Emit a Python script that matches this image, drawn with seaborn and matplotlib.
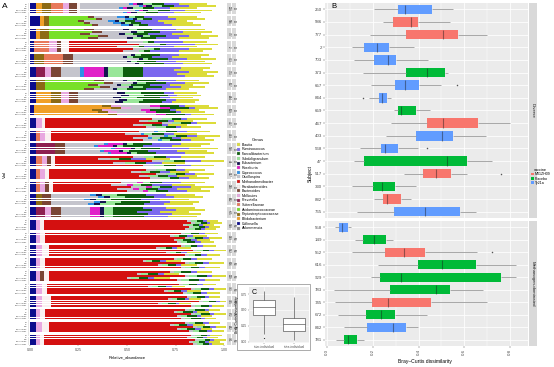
import numpy as np
import pandas as pd
import matplotlib
matplotlib.use("Agg")
import matplotlib.pyplot as plt
from matplotlib.patches import Patch, Rectangle
from matplotlib.transforms import blended_transform_factory
from matplotlib.ticker import FixedLocator
import seaborn as sns

plt.rcParams["font.family"] = ["Liberation Sans", "DejaVu Sans"]

# ---------------- data ----------------
GENERA = ["Blautia", "Ruminococcus", "Faecalibacterium", "Subdoligranulum", "Eubacterium",
          "Roseburia", "Coprococcus", "Oscillospira", "Methanobrevibacter", "Parabacteroides",
          "Bacteroides", "Mollicutes", "Prevotella", "Sutterellaceae", "Acidaminococcaceae",
          "Peptostreptococcaceae", "Bifidobacterium", "Collinsella", "Akkermansia"]
GENUS_COLORS = ["#DCDC3A", "#7B68EE", "#0E5E0E", "#98E698", "#141450",
                "#E020C8", "#2E8FE6", "#C4C4CC", "#D41010", "#FAF0F0",
                "#7A4535", "#E8A8E0", "#8E1E50", "#E8785A", "#78E028",
                "#8C6A14", "#F0A028", "#0C0C8C", "#8C8C8C"]

DIVERSE = ["250", "586", "777", "2", "703", "373", "657", "844", "659", "467",
           "403", "568", "47", "517", "330", "882", "765"]
METHANO = ["558", "149", "552", "616", "929", "783", "745", "672", "842", "781"]
SUBJECTS = DIVERSE + METHANO
VACCINE = ["Ty21a", "M01ZH09", "M01ZH09", "Ty21a", "Ty21a", "Placebo", "Ty21a", "Ty21a", "Placebo",
           "M01ZH09", "Ty21a", "Ty21a", "Placebo", "M01ZH09", "Placebo", "M01ZH09", "Ty21a",
           "Ty21a", "Placebo", "M01ZH09", "Placebo", "Placebo", "Placebo", "M01ZH09", "Placebo",
           "Ty21a", "Placebo"]
VACC_LEVELS = ["M01ZH09", "Placebo", "Ty21a"]
VACC_COLORS = ["#F8766D", "#00BA38", "#619CFF"]

SAMPLE_LABELS = ["D0", "D7", "D28", "Pre-challenge", "Post-challenge"]

# mean genus profile per subject (legend order)
PROFILES = [
    [.14, .08, .06, .05, .03, .02, .02, .25, 0, .02, .04, .03, 0, .06, 0, .05, .03, .03, 0],
    [.15, .12, .05, .03, .02, 0, .04, .12, 0, 0, .03, 0, 0, 0, .20, .03, .02, .05, 0],
    [.15, .12, .08, .04, .03, 0, 0, .15, 0, 0, .05, 0, 0, 0, .20, .05, .02, .03, 0],
    [.12, .15, .03, .03, 0, 0, 0, .08, .32, .04, .02, .04, 0, .08, 0, 0, 0, .02, 0],
    [.15, .10, .10, .03, .02, 0, 0, .30, 0, 0, .05, 0, 0, .10, 0, .05, 0, .02, 0],
    [.15, .20, .10, .08, .02, .10, .02, .10, 0, 0, .05, .03, .05, 0, 0, 0, 0, .03, 0],
    [.12, .10, .10, .05, .02, 0, 0, .10, 0, 0, .05, 0, 0, 0, .25, .05, 0, .03, 0],
    [.12, .05, .12, .08, .04, 0, 0, .20, 0, 0, .05, .04, 0, 0, 0, .05, .08, .03, 0],
    [.12, .03, .10, 0, 0, .05, 0, .15, 0, 0, 0, .05, 0, 0, 0, .05, .35, .02, 0],
    [.10, .03, .05, .05, 0, 0, 0, .05, .55, .02, 0, .03, 0, 0, 0, 0, 0, .03, 0],
    [.12, .05, .06, .04, 0, 0, .02, .08, .45, .03, 0, .03, 0, .02, 0, 0, 0, .03, 0],
    [.15, .15, .10, .03, .02, .08, .02, .20, 0, 0, .05, 0, .10, 0, 0, 0, 0, .03, 0],
    [.12, .08, .06, .05, 0, 0, 0, .06, .40, .02, .02, .03, 0, .03, 0, 0, 0, .03, 0],
    [.10, .05, .05, .05, 0, 0, 0, .05, .50, .02, 0, .03, 0, .02, 0, 0, 0, .03, 0],
    [.12, .10, .06, .04, 0, .03, 0, .08, .35, .02, .02, .03, 0, .02, 0, 0, 0, .03, 0],
    [.15, .10, .15, .08, .03, 0, .03, .20, 0, 0, .05, 0, 0, 0, 0, .03, 0, .03, 0],
    [.15, .12, .15, .05, .02, .05, 0, .15, 0, 0, .05, .03, .05, 0, 0, 0, 0, .03, 0],
    [.06, .02, .03, .03, 0, 0, 0, .02, .74, .02, 0, .02, 0, 0, 0, 0, 0, .03, 0],
    [.07, .03, .04, .03, 0, 0, 0, .02, .70, .03, 0, .02, 0, 0, 0, 0, 0, .03, 0],
    [.07, .03, .03, .03, 0, 0, 0, .02, .68, .04, 0, .03, 0, 0, 0, 0, 0, .03, 0],
    [.08, .03, .04, .03, 0, 0, 0, .02, .66, .03, 0, .02, 0, 0, 0, 0, 0, .03, 0],
    [.08, .03, .05, .04, 0, 0, 0, .02, .62, .03, .02, .02, 0, 0, 0, 0, 0, .03, 0],
    [.07, .03, .04, .03, 0, 0, 0, .02, .68, .03, 0, .03, 0, 0, 0, 0, 0, .03, 0],
    [.06, .02, .04, .03, 0, 0, 0, .02, .70, .05, 0, .03, 0, 0, 0, 0, 0, .03, 0],
    [.06, .02, .05, .03, 0, 0, 0, .02, .72, .03, 0, .02, 0, 0, 0, 0, 0, .03, 0],
    [.06, .03, .04, .03, 0, 0, 0, .02, .70, .04, 0, .03, 0, 0, 0, 0, 0, .03, 0],
    [.06, .02, .03, .03, 0, 0, 0, .02, .76, .02, 0, .02, 0, 0, 0, 0, 0, .03, 0],
]
# dominant genus of each subject and its abundance in each sample
DOMINANT = [7, 14, 14, 8, 7, 1, 14, 7, 16, 8, 8, 7, 8, 8, 8, 7, 2,
            8, 8, 8, 8, 8, 8, 8, 8, 8, 8]
DOMINANT_VALUES = [
    [.25, .30, .20, .28, .22], [.20, .24, .15, .18, .22], [.18, .22, .16, .25, .20],
    [.30, .36, .25, .33, .28], [.30, .26, .34, .28, .32], [.20, .16, .24, .18, .22],
    [.25, .30, .22, .28, .20], [.20, .22, .18, .21, .19], [.35, .40, .30, .33, .38],
    [.55, .48, .60, .45, .52], [.45, .38, .50, .42, .47], [.20, .15, .24, .18, .22],
    [.40, .22, .50, .30, .45], [.50, .42, .55, .46, .52], [.35, .30, .40, .33, .38],
    [.20, .24, .17, .22, .19], [.15, .20, .12, .18, .16],
    [.74, .76, .72, .75, .73], [.70, .64, .72, .66, .68], [.68, .55, .74, .60, .70],
    [.66, .50, .72, .58, .70], [.62, .45, .70, .40, .66], [.68, .52, .74, .60, .70],
    [.70, .60, .76, .55, .72], [.72, .66, .75, .68, .70], [.70, .62, .74, .66, .72],
    [.76, .74, .78, .75, .77],
]

# panel B: Bray-Curtis box statistics per subject
B_LOW = [.207, .245, .186, .110, .119, .157, .192, .183, .292, .280, .256, .145, .119, .338, .110, .204, .130,
         .032, .120, .110, .221, .193, .031, .032, .048, .075, .038]
B_Q1 = [.308, .289, .344, .160, .207, .344, .299, .227, .308, .438, .387, .234, .160, .418, .202, .246, .292,
        .053, .155, .251, .397, .233, .277, .198, .169, .172, .075]
B_MED = [.342, .365, .508, .218, .267, .438, .340, .242, .325, .507, .502, .252, .526, .475, .240, .261, .428,
         .063, .205, .338, .502, .324, .476, .265, .234, .286, .092]
B_Q3 = [.457, .397, .574, .271, .303, .514, .404, .262, .388, .661, .549, .311, .612, .542, .297, .324, .580,
        .091, .259, .429, .654, .760, .536, .453, .296, .347, .130]
B_HIGH = [.550, .536, .700, .380, .443, .529, .500, .280, .450, .803, .695, .397, .724, .614, .387, .365, .654,
          .104, .286, .658, .826, .829, .681, .699, .435, .397, .160]
B_OUT_SUBJ = ["657", "844", "568", "517", "552"]
B_OUT_VAL = [.570, .157, .437, .760, .721]

# panel C
C_GROUPS = ["inter-individual", "intra-individual"]
C_LOW = [.12, .03]
C_Q1 = [.42, .172]
C_MED = [.542, .277]
C_Q3 = [.656, .37]
C_HIGH = [.80, .708]
C_OUT_GROUP = ["inter-individual"]
C_OUT_VAL = [.06]

# ---------------- figure ----------------
W, H = 554, 367
fig = plt.figure(figsize=(W / 100, H / 100), dpi=100)


def px_axes(x0, y0, x1, y1):
    return fig.add_axes([x0 / W, 1 - y1 / H, (x1 - x0) / W, (y1 - y0) / H])


# ---- panel A: stacked relative abundance ----
rows = []
for s, prof, dom, dvals in zip(SUBJECTS, PROFILES, DOMINANT, DOMINANT_VALUES):
    for lab, dv in zip(SAMPLE_LABELS, dvals):
        vals = list(prof)
        vals[dom] = dv
        rows.append([f"{s}|{lab}", s] + vals)
abund = pd.DataFrame(rows, columns=["sample", "subject"] + GENERA)

order = []
for i, s in enumerate(SUBJECTS):
    if i > 0:
        order.append(f"gap{i}")
    order += [f"{s}|{lab}" for lab in SAMPLE_LABELS]

stack = GENERA[::-1]  # leftmost first
cum = abund[stack].cumsum(axis=1)
cum["sample"] = abund["sample"]
color_of = dict(zip(GENERA, GENUS_COLORS))

axA = px_axes(29, 3, 226, 345)
for g in stack[::-1]:
    sns.barplot(data=cum, x=g, y="sample", order=order, color=color_of[g], saturation=1,
                width=0.85, errorbar=None, linewidth=0, edgecolor="none", ax=axA)
axA.set_xlim(-0.005, 1.01)
axA.set_xticks([0, .25, .5, .75, 1.0])
axA.set_xticklabels(["0.00", "0.25", "0.50", "0.75", "1.00"])
axA.set_yticks(range(len(order)))
axA.set_yticklabels(["" if o.startswith("gap") else o.split("|")[1] for o in order])
axA.tick_params(axis="y", labelsize=1.4, length=0.8, width=0.2, pad=0.6, colors="#4D4D4D")
axA.tick_params(axis="x", labelsize=2.6, length=1, width=0.3, pad=1, colors="#4D4D4D")
axA.set_xlabel("")
axA.set_ylabel("")
for sp in axA.spines.values():
    sp.set_visible(False)

trans = blended_transform_factory(axA.transAxes, axA.transData)
def ax_x(px):
    return (px - 29) / 197
for i, s in enumerate(SUBJECTS):
    y0 = i * 6 - 0.5
    letter = "D" if s in DIVERSE else "M"
    for (xa, xb, txt) in [(226.6, 231.2, s), (231.6, 236.0, letter)]:
        axA.add_patch(Rectangle((ax_x(xa), y0), ax_x(xb) - ax_x(xa), 5, transform=trans,
                                facecolor="#D9D9D9", edgecolor="none", clip_on=False))
        axA.text((ax_x(xa) + ax_x(xb)) / 2, y0 + 2.5, txt, transform=trans, rotation=-90,
                 ha="center", va="center", fontsize=2.0, color="#1A1A1A")

fig.text(127 / W, 1 - 357 / H, "Relative_abundance", ha="center", va="center", fontsize=3)
fig.text(5 / W, 1 - 174 / H, "Vial", ha="center", va="center", rotation=90, fontsize=3.2)
fig.text(2 / W, 1 - 6 / H, "A", ha="left", va="center", fontsize=6)

handles = [Patch(facecolor=c, edgecolor="#BBBBBB", linewidth=0.2, label=g)
           for g, c in zip(GENERA, GENUS_COLORS)]
fig.legend(handles=handles, title="Genus", loc="upper left", bbox_to_anchor=(237 / W, 1 - 138 / H),
           frameon=False, fontsize=2.6, title_fontsize=3, handlelength=0.9, handleheight=0.9,
           labelspacing=0.18, borderpad=0, handletextpad=0.4, borderaxespad=0)

# ---- panel B: Bray-Curtis per subject ----
b_rows = []
for s, v, lo, q1, md, q3, hi in zip(SUBJECTS, VACCINE, B_LOW, B_Q1, B_MED, B_Q3, B_HIGH):
    for val in (lo, q1, md, q3, hi):
        b_rows.append([s, v, "Diverse" if s in DIVERSE else "Methanogen-dominated", val])
bc = pd.DataFrame(b_rows, columns=["subject", "vaccine", "group", "bc"])
outl = pd.DataFrame({"subject": B_OUT_SUBJ, "bc": B_OUT_VAL})

axB1 = px_axes(325, 3, 528, 218)
axB2 = px_axes(325, 221, 528, 346)
for ax, subs, name in [(axB1, DIVERSE, "Diverse"), (axB2, METHANO, "Methanogen-dominated")]:
    ax.set_facecolor("#EBEBEB")
    sns.boxplot(data=bc[bc["group"] == name], x="bc", y="subject", order=subs, hue="vaccine",
                hue_order=VACC_LEVELS, palette=VACC_COLORS, dodge=False, width=0.75, whis=np.inf,
                saturation=1, linewidth=0.6, linecolor="#9A9A9A", showcaps=False, legend=False,
                boxprops={"edgecolor": "none"},
                medianprops={"color": "#1A1A1A", "alpha": 0.45, "linewidth": 0.8},
                whiskerprops={"color": "#9A9A9A", "linewidth": 0.6}, ax=ax)
    o = outl[outl["subject"].isin(subs)]
    sns.stripplot(data=o, x="bc", y="subject", order=subs, jitter=False, color="#555555",
                  size=1.1, linewidth=0, ax=ax)
    ax.set_xlim(-0.01, 0.88)
    ax.set_xticks([0, .2, .4, .6, .8])
    ax.xaxis.set_minor_locator(FixedLocator([.1, .3, .5, .7]))
    ax.set_axisbelow(True)
    ax.grid(axis="x", which="major", color="white", linewidth=0.55)
    ax.grid(axis="x", which="minor", color="white", linewidth=0.3)
    ax.grid(axis="y", which="major", color="white", linewidth=0.55)
    ax.tick_params(axis="both", which="major", labelsize=3.2, length=1.2, width=0.3,
                   pad=1, colors="#4D4D4D")
    ax.tick_params(axis="x", which="minor", length=0)
    ax.set_xlabel("")
    ax.set_ylabel("")
    for sp in ax.spines.values():
        sp.set_visible(False)
    ax.add_patch(Rectangle((1.0025, 0), 8.5 / 203, 1, transform=ax.transAxes,
                           facecolor="#D9D9D9", edgecolor="none", clip_on=False))
    ax.text(1.0025 + 4.25 / 203, 0.5, name, transform=ax.transAxes, rotation=-90,
            ha="center", va="center", fontsize=3.2, color="#1A1A1A")
axB1.tick_params(axis="x", labelbottom=False, length=0)
axB2.set_xticklabels(["0.0", "0.2", "0.4", "0.6", "0.8"], rotation=90)

fig.text(425 / W, 1 - 362 / H, "Bray\u2013Curtis dissimilarity", ha="center", va="center", fontsize=3.6)
fig.text(310.5 / W, 1 - 174 / H, "Subject", ha="center", va="center", rotation=90, fontsize=3.6)
fig.text(331 / W, 1 - 7 / H, "B", ha="left", va="center", fontsize=5.5)

vhandles = [Patch(facecolor=c, edgecolor="none", label=v) for v, c in zip(VACC_LEVELS, VACC_COLORS)]
fig.legend(handles=vhandles, title="vaccine", loc="upper left", bbox_to_anchor=(531 / W, 1 - 168 / H),
           frameon=False, fontsize=2.6, title_fontsize=2.8, handlelength=0.8, handleheight=0.8,
           labelspacing=0.1, borderpad=0, handletextpad=0.3, borderaxespad=0)

# ---- panel C: inter vs intra individual ----
fig.patches.append(Rectangle((237 / W, 1 - 350 / H), 73 / W, 66 / H, transform=fig.transFigure,
                             facecolor="white", edgecolor="#8A8A8A", linewidth=0.5, zorder=5))
c_rows = []
for g, lo, q1, md, q3, hi in zip(C_GROUPS, C_LOW, C_Q1, C_MED, C_Q3, C_HIGH):
    for val in (lo, q1, md, q3, hi):
        c_rows.append([g, val])
cdat = pd.DataFrame(c_rows, columns=["comparison", "bc"])
cout = pd.DataFrame({"comparison": C_OUT_GROUP, "bc": C_OUT_VAL})

axC = px_axes(249, 287, 309, 343)
axC.set_zorder(6)
axC.set_facecolor("#EBEBEB")
sns.boxplot(data=cdat, x="comparison", y="bc", order=C_GROUPS, color="white", width=0.73,
            whis=np.inf, saturation=1, linewidth=0.4, linecolor="#333333", showcaps=False, ax=axC)
sns.stripplot(data=cout, x="comparison", y="bc", order=C_GROUPS, jitter=False, color="#333333",
              size=0.9, linewidth=0, ax=axC)
axC.set_ylim(-0.02, 0.86)
axC.set_yticks([0, .25, .5, .75])
axC.set_yticklabels(["0.00", "0.25", "0.50", "0.75"])
axC.set_axisbelow(True)
axC.grid(axis="both", color="white", linewidth=0.4)
axC.tick_params(axis="both", labelsize=2.3, length=0.8, width=0.3, pad=0.8, colors="#4D4D4D")
axC.set_xlabel("")
axC.set_ylabel("Bray-Curtis dissimilarity", fontsize=2.5, labelpad=0.8)
for sp in axC.spines.values():
    sp.set_visible(False)
fig.text(252 / W, 1 - 292 / H, "C", ha="left", va="center", fontsize=5, zorder=7)

fig.savefig("out.png", dpi=100)
